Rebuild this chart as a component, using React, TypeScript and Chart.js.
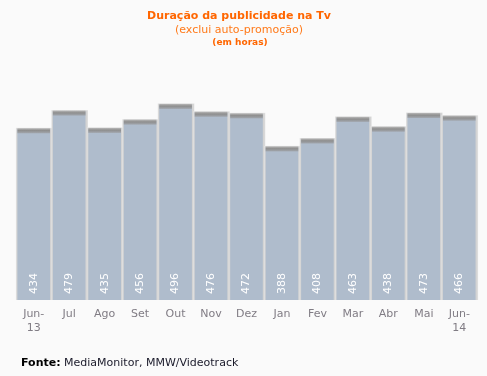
import React, { useEffect, useRef } from "react";
import { Chart, registerables } from "chart.js";

Chart.register(...registerables);

const categories: (string | string[])[] = [
  ["Jun-", "13"], "Jul", "Ago", "Set", "Out", "Nov", "Dez", "Jan", "Fev", "Mar", "Abr", "Mai", ["Jun-", "14"],
];
const hours: number[] = [434, 479, 435, 456, 496, 476, 472, 388, 408, 463, 438, 473, 466];

const titleText = "Duração da publicidade na Tv";
const subtitleText = "(exclui auto-promoção)";
const unitText = "(em horas)";
const sourceLabel = "Fonte:";
const sourceText = " MediaMonitor, MMW/Videotrack";

const FONT = "'DejaVu Sans', Verdana, sans-serif";

const barDecor = {
  id: "barDecor",
  beforeDatasetsDraw(chart: any) {
    const ctx = chart.ctx;
    const meta = chart.getDatasetMeta(0);
    ctx.save();
    meta.data.forEach((bar: any) => {
      const { x, y, base, width } = bar.getProps(["x", "y", "base", "width"], true);
      const left = x - width / 2;
      ctx.fillStyle = "#e6e6e6";
      ctx.fillRect(left - 1.5, y - 1.5, width + 4, base - y + 1.5);
      ctx.fillStyle = "#d4d4d4";
      ctx.fillRect(left - 1, y - 1, width + 3, base - y + 1);
    });
    ctx.restore();
  },
  afterDatasetsDraw(chart: any) {
    const ctx = chart.ctx;
    const meta = chart.getDatasetMeta(0);
    const data = chart.data.datasets[0].data;
    ctx.save();
    meta.data.forEach((bar: any, i: number) => {
      const { x, y, base, width } = bar.getProps(["x", "y", "base", "width"], true);
      const left = x - width / 2;
      const g = ctx.createLinearGradient(0, y - 1, 0, y + 4);
      g.addColorStop(0, "#b8b8b8");
      g.addColorStop(0.45, "#8e8e8e");
      g.addColorStop(1, "#a2a7ae");
      ctx.fillStyle = g;
      ctx.fillRect(left, y - 1, width, 5);
      ctx.translate(x, base - 6);
      ctx.rotate(-Math.PI / 2);
      ctx.fillStyle = "#ffffff";
      ctx.font = `11px ${FONT}`;
      ctx.textAlign = "left";
      ctx.textBaseline = "middle";
      ctx.fillText(String(data[i]), 0, 0);
      ctx.setTransform(1, 0, 0, 1, 0, 0);
    });
    ctx.restore();
  },
};

export default function App() {
  const ref = useRef<HTMLCanvasElement>(null);
  useEffect(() => {
    const chart = new Chart(ref.current!, {
      type: "bar",
      data: {
        labels: categories,
        datasets: [
          {
            data: hours,
            backgroundColor: "#afbccc",
            borderWidth: 0,
            barPercentage: 0.92,
            categoryPercentage: 1,
          },
        ],
      },
      options: {
        animation: false,
        responsive: false,
        devicePixelRatio: 1,
        layout: { padding: { left: 16, right: 10, top: 64, bottom: 0 } },
        plugins: { legend: { display: false }, tooltip: { enabled: false } },
        scales: {
          x: {
            grid: { display: false, drawTicks: false },
            border: { display: false },
            ticks: {
              color: "#807c84",
              font: { family: FONT, size: 11 },
              padding: 8,
              maxRotation: 0,
              autoSkip: false,
            },
            afterFit: (scale: any) => {
              scale.height = 76;
            },
          },
          y: { display: false, min: 0, max: 600 },
        },
      },
      plugins: [barDecor],
    });
    return () => chart.destroy();
  }, []);

  return (
    <div
      style={{
        position: "fixed",
        left: 0,
        top: 0,
        width: 487,
        height: 376,
        background: "#fafafa",
        fontFamily: FONT,
      }}
    >
      <canvas ref={ref} width={487} height={376} style={{ position: "absolute", left: 0, top: 0 }} />
      <div style={{ position: "absolute", left: 0, width: 478, top: 9, textAlign: "center", color: "#ff6600", fontSize: 11, fontWeight: "bold", lineHeight: "14px" }}>
        {titleText}
      </div>
      <div style={{ position: "absolute", left: 0, width: 478, top: 23, textAlign: "center", color: "#ff7a1a", fontSize: 11, lineHeight: "14px" }}>
        {subtitleText}
      </div>
      <div style={{ position: "absolute", left: 0, width: 480, top: 36, textAlign: "center", color: "#ff6600", fontSize: 9, fontWeight: "bold", lineHeight: "13px" }}>
        {unitText}
      </div>
      <div style={{ position: "absolute", left: 21, top: 355, color: "#1a1a2a", fontSize: 11, lineHeight: "15px", whiteSpace: "nowrap" }}>
        <b style={{ color: "#000" }}>{sourceLabel}</b>
        {sourceText}
      </div>
    </div>
  );
}
